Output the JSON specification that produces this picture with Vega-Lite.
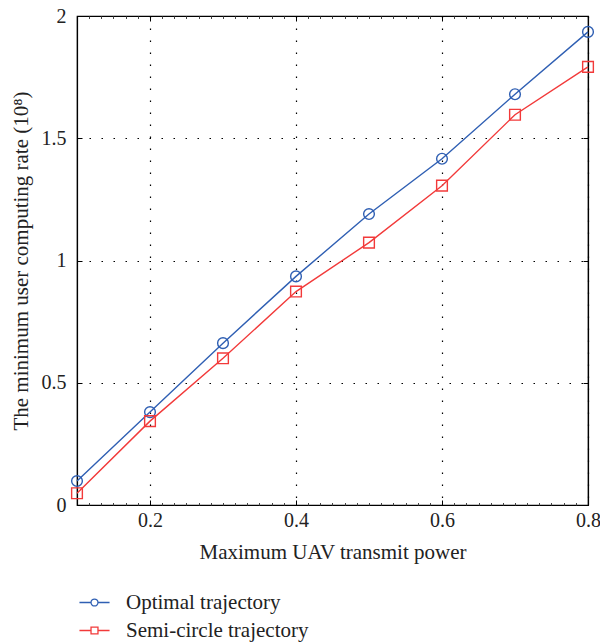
{
  "$schema": "https://vega.github.io/schema/vega-lite/v6.json",
  "autosize": {"type": "none"},
  "width": 511,
  "height": 489,
  "padding": {"left": 77, "top": 16, "right": 12, "bottom": 137},
  "background": "white",
  "config": {
    "font": "Liberation Serif",
    "view": {"stroke": "black", "strokeWidth": 1.2},
    "axis": {"labelFont": "Liberation Serif", "titleFont": "Liberation Serif", "labelColor": "#222", "titleColor": "#222", "titleFontWeight": "normal", "domainColor": "black", "tickColor": "black"},
    "legend": {"labelFont": "Liberation Serif", "labelColor": "#222"}
  },
  "data": {"values": [
    {"series": "Optimal trajectory", "power": 0.1, "rate": 0.098},
    {"series": "Optimal trajectory", "power": 0.2, "rate": 0.38},
    {"series": "Optimal trajectory", "power": 0.3, "rate": 0.662},
    {"series": "Optimal trajectory", "power": 0.4, "rate": 0.935},
    {"series": "Optimal trajectory", "power": 0.5, "rate": 1.19},
    {"series": "Optimal trajectory", "power": 0.6, "rate": 1.416},
    {"series": "Optimal trajectory", "power": 0.7, "rate": 1.68},
    {"series": "Optimal trajectory", "power": 0.8, "rate": 1.935},
    {"series": "Semi-circle trajectory", "power": 0.1, "rate": 0.048},
    {"series": "Semi-circle trajectory", "power": 0.2, "rate": 0.343},
    {"series": "Semi-circle trajectory", "power": 0.3, "rate": 0.6},
    {"series": "Semi-circle trajectory", "power": 0.4, "rate": 0.873},
    {"series": "Semi-circle trajectory", "power": 0.5, "rate": 1.073},
    {"series": "Semi-circle trajectory", "power": 0.6, "rate": 1.306},
    {"series": "Semi-circle trajectory", "power": 0.7, "rate": 1.596},
    {"series": "Semi-circle trajectory", "power": 0.8, "rate": 1.792}
  ]},
  "resolve": {"axis": {"x": "independent", "y": "independent"}},
  "layer": [
    {
      "mark": {"type": "line", "strokeWidth": 1.4},
      "encoding": {
        "x": {"field": "power", "type": "quantitative", "scale": {"domain": [0.1, 0.8], "nice": false, "zero": false},
          "axis": {"orient": "bottom", "title": "Maximum UAV transmit power", "values": [0.2, 0.4, 0.6, 0.8], "format": "~g",
            "labelFontSize": 20, "titleFontSize": 21, "labelPadding": 10, "titlePadding": 11, "tickSize": -5, "labelFlush": false,
            "grid": true, "gridColor": "black", "gridDash": [1.5, 10.5], "gridWidth": 1.2, "domainWidth": 1.2}},
        "y": {"field": "rate", "type": "quantitative", "scale": {"domain": [0, 2], "nice": false},
          "axis": {"orient": "left", "title": "The minimum user computing rate (10⁸)", "values": [0, 0.5, 1, 1.5, 2], "format": "~g",
            "labelFontSize": 20, "titleFontSize": 21, "labelPadding": 16, "titlePadding": 10, "tickSize": -5, "labelFlush": false,
            "grid": true, "gridColor": "black", "gridDash": [1.5, 10.5], "gridWidth": 1.2, "domainWidth": 1.2}},
        "color": {"field": "series", "type": "nominal",
          "scale": {"domain": ["Optimal trajectory", "Semi-circle trajectory"], "range": ["#2f5fb3", "#f23a3a"]},
          "legend": {"orient": "none", "legendX": 7, "legendY": 576, "title": null, "labelFontSize": 21, "labelLimit": 400, "symbolSize": 134,
            "labelOffset": 21, "rowPadding": 6, "padding": 0,
            "encode": {"symbols": {"update": {
              "shape": {"signal": "datum.value === 'Optimal trajectory' ? 'M-2.6,0H-0.6M0.6,0H2.6M-0.6,0A0.6,0.6 0 1,1 0.6,0A0.6,0.6 0 1,1 -0.6,0' : 'M-2.6,0H-0.6M0.6,0H2.6M-0.6,-0.6H0.6V0.6H-0.6Z'"},
              "fill": {"value": "transparent"}, "strokeWidth": {"value": 1.3}, "opacity": {"value": 1}}}}}}
      }
    },
    {
      "mark": {"type": "point", "filled": false, "size": 115, "strokeWidth": 1.4, "opacity": 1},
      "encoding": {
        "x": {"field": "power", "type": "quantitative",
          "axis": {"orient": "top", "title": null, "values": [0.2, 0.4, 0.6, 0.8], "labels": false, "tickSize": -5, "grid": false, "domainWidth": 1.2}},
        "y": {"field": "rate", "type": "quantitative",
          "axis": {"orient": "right", "title": null, "values": [0, 0.5, 1, 1.5, 2], "labels": false, "tickSize": -5, "grid": false, "domainWidth": 1.2}},
        "color": {"field": "series", "type": "nominal", "legend": null},
        "shape": {"field": "series", "type": "nominal", "scale": {"range": ["circle", "square"]}, "legend": null}
      }
    },
    {
      "mark": {"type": "point", "opacity": 0},
      "encoding": {
        "x": {"field": "power", "type": "quantitative",
          "axis": {"orient": "bottom", "title": null, "labels": false, "grid": false, "domain": false, "tickSize": -2.5, "tickColor": "#444",
            "values": [0.116667, 0.133333, 0.15, 0.166667, 0.183333, 0.216667, 0.233333, 0.25, 0.266667, 0.283333, 0.3, 0.316667, 0.333333, 0.35, 0.366667, 0.383333, 0.416667, 0.433333, 0.45, 0.466667, 0.483333, 0.5, 0.516667, 0.533333, 0.55, 0.566667, 0.583333, 0.616667, 0.633333, 0.65, 0.666667, 0.683333, 0.7, 0.716667, 0.733333, 0.75, 0.766667, 0.783333]}},
        "y": {"field": "rate", "type": "quantitative", "axis": null}
      }
    },
    {
      "mark": {"type": "point", "opacity": 0},
      "encoding": {
        "x": {"field": "power", "type": "quantitative",
          "axis": {"orient": "top", "title": null, "labels": false, "grid": false, "domain": false, "tickSize": -2.5, "tickColor": "#444",
            "values": [0.116667, 0.133333, 0.15, 0.166667, 0.183333, 0.216667, 0.233333, 0.25, 0.266667, 0.283333, 0.3, 0.316667, 0.333333, 0.35, 0.366667, 0.383333, 0.416667, 0.433333, 0.45, 0.466667, 0.483333, 0.5, 0.516667, 0.533333, 0.55, 0.566667, 0.583333, 0.616667, 0.633333, 0.65, 0.666667, 0.683333, 0.7, 0.716667, 0.733333, 0.75, 0.766667, 0.783333]}},
        "y": {"field": "rate", "type": "quantitative", "axis": null}
      }
    }
  ]
}
